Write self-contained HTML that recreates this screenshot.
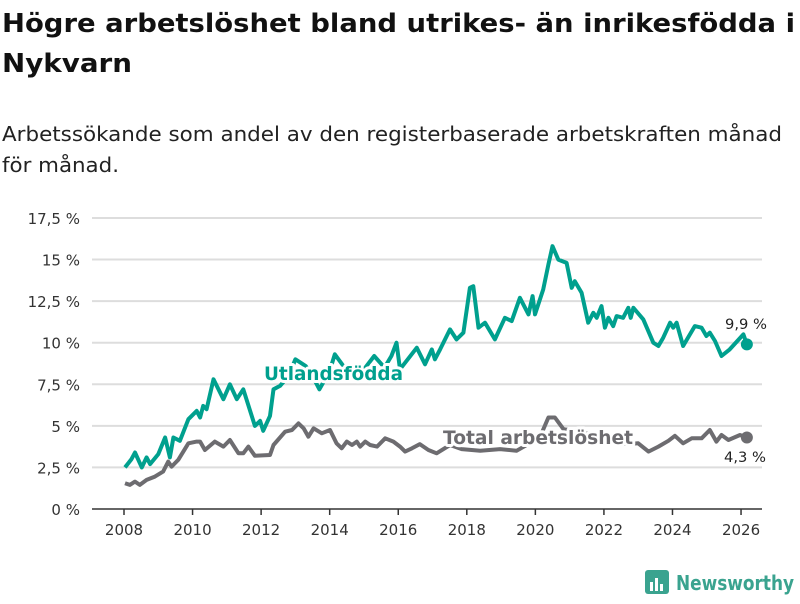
<!DOCTYPE html>
<html><head><meta charset="utf-8"><style>
body{margin:0;background:#fff;width:800px;height:600px;overflow:hidden;font-family:"DejaVu Sans","Liberation Sans",sans-serif;}
</style></head><body>
<svg width="800" height="600" viewBox="0 0 800 600" font-family="DejaVu Sans, Liberation Sans, sans-serif">
<text x="2" y="32" font-size="26" font-weight="bold" fill="#111" textLength="793" lengthAdjust="spacingAndGlyphs">Högre arbetslöshet bland utrikes- än inrikesfödda i</text>
<text x="2" y="72" font-size="26" font-weight="bold" fill="#111" textLength="130" lengthAdjust="spacingAndGlyphs">Nykvarn</text>
<text x="2" y="141" font-size="20" fill="#222" textLength="780" lengthAdjust="spacingAndGlyphs">Arbetssökande som andel av den registerbaserade arbetskraften månad</text>
<text x="2" y="172" font-size="20" fill="#222" textLength="117" lengthAdjust="spacingAndGlyphs">för månad.</text>
<g id="grid"></g><g id="xaxis"></g><g id="lines"></g>
<g>
<rect x="645" y="570" width="24" height="24" rx="3" fill="#3aa38f"/>
<rect x="650" y="582" width="3" height="9" fill="#fff"/><rect x="655" y="578" width="3" height="13" fill="#fff"/><rect x="660" y="584" width="3" height="7" fill="#fff"/>
<text x="676" y="590" font-size="20" font-weight="bold" fill="#3aa38f" textLength="118" lengthAdjust="spacingAndGlyphs">Newsworthy</text>
</g>
</svg>
<script>
const yTicks=[0,2.5,5,7.5,10,12.5,15,17.5];
const yTickLabels=["0 %","2,5 %","5 %","7,5 %","10 %","12,5 %","15 %","17,5 %"];
const xTicks=[2008,2010,2012,2014,2016,2018,2020,2022,2024,2026];
const utlYears=[2008.03,2008.22,2008.32,2008.52,2008.66,2008.76,2009.0,2009.2,2009.34,2009.44,2009.63,2009.88,2010.12,2010.22,2010.31,2010.41,2010.61,2010.9,2011.09,2011.29,2011.48,2011.82,2011.97,2012.06,2012.26,2012.36,2012.55,2012.8,2013.0,2013.3,2013.5,2013.7,2014.0,2014.15,2014.4,2014.7,2015.0,2015.3,2015.6,2015.8,2015.95,2016.05,2016.54,2016.78,2016.98,2017.07,2017.22,2017.51,2017.7,2017.9,2018.09,2018.19,2018.34,2018.53,2018.82,2019.11,2019.31,2019.55,2019.8,2019.92,2019.99,2020.23,2020.38,2020.5,2020.67,2020.91,2021.06,2021.15,2021.35,2021.54,2021.69,2021.79,2021.93,2022.03,2022.13,2022.27,2022.37,2022.56,2022.71,2022.78,2022.86,2023.15,2023.44,2023.59,2023.73,2023.93,2024.02,2024.12,2024.31,2024.65,2024.85,2024.99,2025.09,2025.24,2025.43,2025.67,2026.07,2026.17];
const utlValues=[2.5,3.0,3.4,2.5,3.1,2.7,3.3,4.3,3.1,4.3,4.1,5.4,5.9,5.5,6.2,6.0,7.8,6.6,7.5,6.6,7.2,5.0,5.3,4.7,5.6,7.2,7.4,8.0,9.0,8.6,8.0,7.2,8.3,9.3,8.6,8.2,8.4,9.2,8.5,9.2,10.0,8.4,9.7,8.7,9.6,9.0,9.6,10.8,10.2,10.6,13.3,13.4,10.9,11.2,10.2,11.5,11.3,12.7,11.7,12.8,11.7,13.2,14.7,15.8,15.0,14.8,13.3,13.7,13.0,11.2,11.8,11.5,12.2,10.9,11.5,11.0,11.6,11.5,12.1,11.5,12.1,11.4,10.0,9.8,10.3,11.2,10.9,11.2,9.8,11.0,10.9,10.4,10.6,10.1,9.2,9.6,10.5,9.9];
const totYears=[2008.03,2008.17,2008.32,2008.46,2008.66,2008.9,2009.14,2009.29,2009.39,2009.58,2009.88,2010.12,2010.22,2010.36,2010.65,2010.9,2011.09,2011.34,2011.48,2011.63,2011.82,2012.26,2012.36,2012.7,2012.9,2013.09,2013.24,2013.38,2013.53,2013.77,2014.01,2014.2,2014.35,2014.5,2014.65,2014.79,2014.89,2015.04,2015.18,2015.38,2015.62,2015.86,2016.05,2016.2,2016.4,2016.63,2016.88,2017.12,2017.51,2017.85,2018.39,2018.97,2019.45,2020.13,2020.38,2020.57,2020.82,2021.2,2021.6,2022.0,2022.5,2023.0,2023.3,2023.59,2023.88,2024.07,2024.31,2024.56,2024.85,2025.09,2025.28,2025.43,2025.63,2025.97,2026.17];
const totValues=[1.55,1.45,1.65,1.45,1.75,1.95,2.25,2.85,2.55,2.95,3.95,4.05,4.05,3.55,4.05,3.75,4.15,3.35,3.35,3.75,3.2,3.25,3.85,4.65,4.75,5.15,4.85,4.35,4.85,4.55,4.75,3.95,3.65,4.05,3.85,4.05,3.75,4.05,3.85,3.75,4.25,4.05,3.75,3.45,3.65,3.9,3.55,3.35,3.85,3.6,3.5,3.6,3.5,4.3,5.5,5.5,4.8,4.7,4.5,4.1,3.9,3.95,3.45,3.75,4.1,4.4,3.95,4.25,4.25,4.75,4.05,4.45,4.15,4.45,4.3];
const NS="http://www.w3.org/2000/svg";
const X=y=>124+(y-2008)*34.28;
const Y=v=>509-v*16.63;
function mk(t,a,p){const e=document.createElementNS(NS,t);for(const k in a)e.setAttribute(k,a[k]);p.appendChild(e);return e;}
const grid=document.getElementById('grid');
yTicks.forEach((t,i)=>{
  if(t>0){const l=mk('line',{x1:92,x2:762,y1:Y(t),y2:Y(t),stroke:'#ddd','stroke-width':2},grid);
  
  }
  const tx=mk('text',{x:80,y:Y(t)+6,'text-anchor':'end','font-size':15,fill:'#333'},grid);
  tx.textContent=yTickLabels[i];
  
  
});
const xa=document.getElementById('xaxis');
const ax=mk('line',{x1:92,x2:762,y1:509,y2:509,stroke:'#333','stroke-width':1.5},xa);


xTicks.forEach(t=>{
  const tk=mk('line',{x1:X(t),x2:X(t),y1:509,y2:515,stroke:'#333','stroke-width':1.5},xa);
  
  
  const tx=mk('text',{x:X(t),y:535,'text-anchor':'middle','font-size':15,fill:'#333'},xa);
  tx.textContent=t;
  
  
});
const lg=document.getElementById('lines');
function series(xs,vs,col,name){
  const d=xs.map((x,i)=>(i?'L':'M')+X(x).toFixed(1)+','+Y(vs[i]).toFixed(1)).join('');
  const p=mk('path',{d:d,fill:'none',stroke:col,'stroke-width':4,'stroke-linejoin':'round'},lg);
  
  
  const n=xs.length-1;
  const c=mk('circle',{cx:X(xs[n]),cy:Y(vs[n]),r:6,fill:col},lg);
  
  
}
series(totYears,totValues,'#6d6c70','total');
series(utlYears,utlValues,'#00a08e','utlandsfodda');
function label(txt,x,y,col,size,bold,name,len){
  const t=mk('text',{x:x,y:y,'font-size':size,'font-weight':bold?'bold':'normal',fill:col,stroke:'#fff','stroke-width':bold?6:4,'paint-order':'stroke','stroke-linejoin':'round',textLength:len,lengthAdjust:'spacingAndGlyphs'},lg);
  t.textContent=txt;
  
  
}
label('Utlandsfödda',264,380,'#00a08e',19,true,'series-label-utlandsfodda',139);
label('Total arbetslöshet',443,444,'#6d6c70',19,true,'series-label-total',190);
label('9,9 %',725,329,'#222',14,false,'end-value-utlandsfodda',42);
label('4,3 %',724,462,'#222',14,false,'end-value-total',42);
</script>
</body></html>
